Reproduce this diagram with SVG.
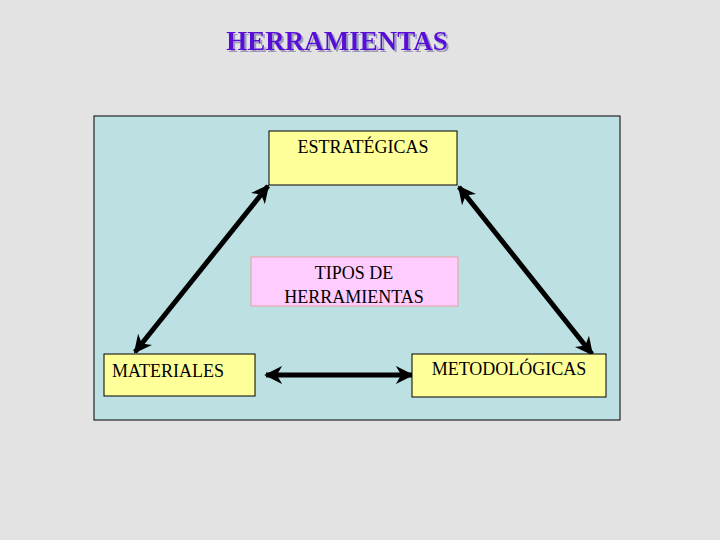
<svg xmlns="http://www.w3.org/2000/svg" width="720" height="540" viewBox="0 0 720 540">
<style>
.box{fill:#ffff99;stroke:#000;stroke-width:1}
.t{font-family:"Liberation Serif",serif;font-size:18px;fill:#000}
.c{stroke:#000;stroke-width:5;fill:none;marker-start:url(#a);marker-end:url(#a)}
</style>
<defs>
<marker id="a" viewBox="0 0 10 10" refX="9" refY="5" markerWidth="3.6" markerHeight="3.6" orient="auto-start-reverse" markerUnits="strokeWidth">
<path d="M0,0 L10,5 L0,10 L3,5 z" fill="#000"/>
</marker>
<filter id="sh" x="-5%" y="-20%" width="110%" height="140%">
<feDropShadow dx="2" dy="2" stdDeviation="0.6" flood-color="#8888aa" flood-opacity="0.8"/>
</filter>
</defs>
<rect width="720" height="540" fill="#e3e3e3"/>
<text x="337" y="50" text-anchor="middle" font-family="Liberation Serif,serif" font-size="27" font-weight="bold" fill="#5a10d8" filter="url(#sh)">HERRAMIENTAS</text>
<rect x="94" y="116" width="526" height="304" fill="#bde0e3" stroke="#000" stroke-width="1"/>
<g id="connectors">
<line class="c" x1="268" y1="186" x2="135" y2="352"/>
<line class="c" x1="459" y1="187" x2="592" y2="354"/>
<line class="c" x1="266" y1="375" x2="412" y2="375"/>
</g>
<g id="estrategicas"><rect class="box" x="269" y="131" width="188" height="54"/><text class="t" x="363" y="153" text-anchor="middle">ESTRATÉGICAS</text></g>
<g id="tipos"><rect x="251" y="257" width="207" height="49" fill="#ffccff" stroke="#e8a0a0" stroke-width="1"/><text class="t" x="354" y="279" text-anchor="middle">TIPOS DE</text><text class="t" x="354" y="303" text-anchor="middle">HERRAMIENTAS</text></g>
<g id="materiales"><rect class="box" x="104" y="354" width="151" height="42"/><text class="t" x="112" y="377">MATERIALES</text></g>
<g id="metodologicas"><rect class="box" x="412" y="354" width="194" height="43"/><text class="t" x="509" y="375" text-anchor="middle" font-size="16">METODOLÓGICAS</text></g>
</svg>
